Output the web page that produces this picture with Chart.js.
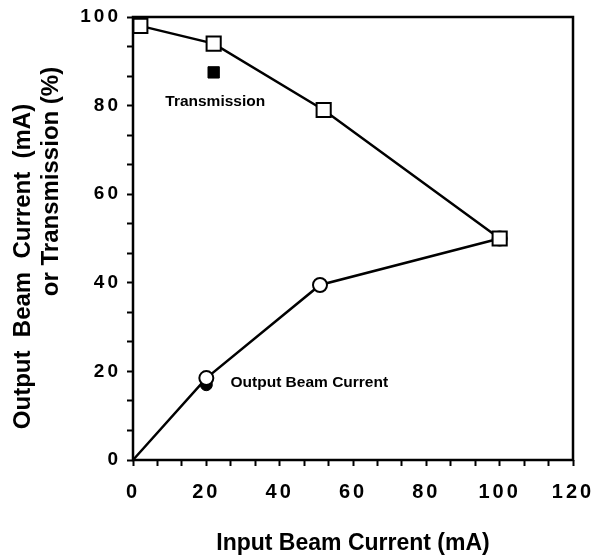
<!DOCTYPE html>
<html>
<head>
<meta charset="utf-8">
<script src="https://cdn.jsdelivr.net/npm/chart.js@4.4.0/dist/chart.umd.min.js"></script>
<style>
  body { margin: 0; background: #fff; }
  #wrap { width: 594px; height: 558px; }
</style>
</head>
<body>
<div id="wrap"><canvas id="chart" width="594" height="558"></canvas></div>
<script>
// Transmission (%) vs input beam current (mA)
const transX = [2, 22, 52, 100];
const transY = [98, 94, 79, 50];

// Output beam current (mA) vs input beam current (mA)
const outX = [0, 20, 51, 100];
const outY = [0, 18.5, 39.5, 50];

// key markers drawn next to the labels
const keyTrans = { x: 22, y: 87.5, text: "Transmission", lx: 8.8, ly: 80.8 };
const keyOut = { x: 20, y: 17, text: "Output Beam Current", lx: 26.6, ly: 17.4 };

const xMajor = [0, 20, 40, 60, 80, 100, 120];
const yMajor = [0, 20, 40, 60, 80, 100];

const yTitle1 = 'Output  Beam  Current  (mA)';
const yTitle2 = 'or Transmission (%)';

// 3 sub-divisions between labelled ticks
function withMinor(major) {
    let out = [];
    for (let i = 0; i < major.length; i++) {
        out.push({ value: major[i], major: true });
        if (i < major.length - 1) {
            let step = (major[i + 1] - major[i]) / 3;
            out.push({ value: major[i] + step });
            out.push({ value: major[i] + 2 * step });
        }
    }
    return out;
}

const toPts = (xs, ys) => xs.map((x, i) => ({ x: x, y: ys[i] }));
const FAMILY = '"Liberation Sans", Arial, sans-serif';

// frame around the plot, text labels, y title; spaced digits for tick labels
const framePlugin = {
    id: 'frame',
    afterDatasetsDraw(chart) {
        chart.ctx.letterSpacing = '3px';
    },
    afterDraw(chart) {
        const ctx = chart.ctx;
        const a = chart.chartArea;
        const xs = chart.scales.x, ys = chart.scales.y;
        ctx.letterSpacing = '0px';
        ctx.save();
        ctx.strokeStyle = '#000';
        ctx.lineWidth = 2.5;
        ctx.strokeRect(a.left, a.top, a.right - a.left, a.bottom - a.top);
        ctx.fillStyle = '#000';
        ctx.font = 'bold 15.5px ' + FAMILY;
        ctx.textBaseline = 'middle';
        [keyTrans, keyOut].forEach(k => {
            ctx.fillText(k.text, xs.getPixelForValue(k.lx), ys.getPixelForValue(k.ly));
        });
        // two-line y title, rotated
        const cy = (a.top + a.bottom) / 2;
        ctx.font = 'bold 24px ' + FAMILY;
        ctx.textAlign = 'center';
        ctx.save();
        ctx.translate(a.left - 110, cy + 28);
        ctx.rotate(-Math.PI / 2);
        ctx.fillText(yTitle1, 0, 0);
        ctx.restore();
        ctx.save();
        ctx.translate(a.left - 82, cy - 57);
        ctx.rotate(-Math.PI / 2);
        ctx.fillText(yTitle2, 0, 0);
        ctx.restore();
        ctx.restore();
    }
};

const tickFont = { family: FAMILY, size: 20, weight: 'bold' };

new Chart(document.getElementById('chart'), {
    type: 'scatter',
    data: {
        datasets: [
            {
                label: 'Transmission',
                data: toPts(transX, transY),
                showLine: true,
                borderColor: '#000',
                borderWidth: 2.5,
                pointStyle: 'rect',
                pointRadius: 10,
                pointBorderWidth: 2,
                pointBackgroundColor: '#fff',
                pointBorderColor: '#000'
            },
            {
                label: 'Output Beam Current',
                data: toPts(outX, outY),
                showLine: true,
                borderColor: '#000',
                borderWidth: 2.5,
                pointStyle: 'circle',
                pointRadius: ctx => ctx.dataIndex === 0 ? 0 : 7,
                pointBorderWidth: 2,
                pointBackgroundColor: '#fff',
                pointBorderColor: '#000'
            },
            {
                label: 'key transmission',
                data: [{ x: keyTrans.x, y: keyTrans.y }],
                pointStyle: 'rect',
                pointRadius: 8,
                pointBackgroundColor: '#000',
                pointBorderColor: '#000'
            },
            {
                label: 'key output',
                data: [{ x: keyOut.x, y: keyOut.y }],
                pointStyle: 'circle',
                pointRadius: 6,
                pointBackgroundColor: '#000',
                pointBorderColor: '#000'
            }
        ]
    },
    options: {
        responsive: false,
        animation: false,
        clip: false,
        layout: { padding: { top: 17, right: 21, left: 0, bottom: 0 } },
        plugins: {
            legend: { display: false },
            tooltip: { enabled: false }
        },
        scales: {
            x: {
                type: 'linear',
                min: 0,
                max: 120,
                afterBuildTicks: axis => { axis.ticks = withMinor(xMajor); },
                afterFit: axis => {
                    axis.height = 98;
                    axis.paddingLeft = 0;
                    axis.paddingRight = 0;
                },
                grid: { display: true, drawOnChartArea: false, drawTicks: true, tickLength: 6, tickColor: '#000', tickWidth: 2 },
                border: { display: false },
                ticks: {
                    z: 1,
                    color: '#000',
                    font: tickFont,
                    padding: 14,
                    maxRotation: 0,
                    autoSkip: false,
                    callback: (v, i, t) => t[i].major ? String(Math.round(v)) : ''
                },
                title: {
                    display: true,
                    text: 'Input Beam Current (mA)',
                    color: '#000',
                    font: { family: FAMILY, size: 23, weight: 'bold' },
                    padding: { top: 0, bottom: 1 }
                }
            },
            y: {
                type: 'linear',
                min: 0,
                max: 100,
                afterBuildTicks: axis => { axis.ticks = withMinor(yMajor); },
                afterFit: axis => {
                    axis.width = 133;
                    axis.paddingTop = 0;
                    axis.paddingBottom = 0;
                },
                grid: { display: true, drawOnChartArea: false, drawTicks: true, tickLength: 6, tickColor: '#000', tickWidth: 2 },
                border: { display: false },
                ticks: {
                    z: 1,
                    color: '#000',
                    font: { family: FAMILY, size: 19, weight: 'bold' },
                    padding: 6,
                    autoSkip: false,
                    callback: (v, i, t) => t[i].major ? String(Math.round(v)) : ''
                },
                title: { display: false }
            }
        }
    },
    plugins: [framePlugin]
});
</script>
</body>
</html>
